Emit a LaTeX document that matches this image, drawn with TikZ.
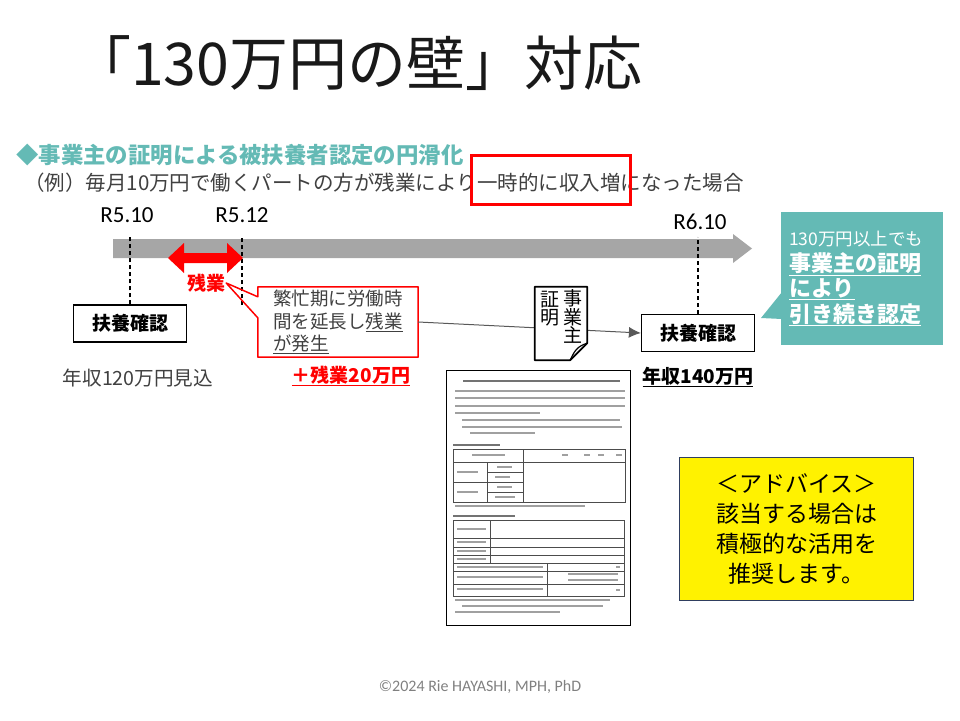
\documentclass[tikz,border=0pt]{standalone}
\usepackage{fontspec}
\setmainfont{Noto Sans CJK JP}
\newfontfamily\latinfont{Carlito}
\usetikzlibrary{arrows.meta}
\definecolor{tealnote}{RGB}{100,186,181}
\definecolor{darktext}{RGB}{64,64,64}
\definecolor{bargray}{RGB}{166,166,166}
\definecolor{navyedge}{RGB}{47,62,94}
\definecolor{formgray}{RGB}{160,160,160}
\newcommand{\sizept}[2]{\fontsize{#1}{#2}\selectfont}

\begin{document}
\begin{tikzpicture}[x=1pt,y=-1pt,
    checkbox/.style={draw=black,line width=1.2pt,fill=white,minimum width=113pt,minimum height=37pt,inner sep=0pt,font=\bfseries\sizept{19}{19}},
    dateline/.style={line width=1.5pt,dash pattern=on 4pt off 3pt},
    datelabel/.style={font=\latinfont\sizept{23}{23}},
    bodytext/.style={text=darktext,inner sep=0pt},
    formtext/.style={line width=1.6pt,formgray},
    formrule/.style={line width=0.9pt,black!70}]
  \useasboundingbox (0,0) rectangle (960,720);

  \node[anchor=west,inner sep=0pt,font=\sizept{59}{59},text=black!90] (title) at (72,63) {「130万円の壁」対応};
  \node[anchor=west,inner sep=0pt,font=\bfseries\sizept{22.4}{22.4},text=tealnote] (heading) at (16,155) {◆事業主の証明による被扶養者認定の円滑化};
  \node[anchor=west,bodytext,font=\sizept{20.5}{20.5}] (example) at (24,183) {（例）毎月10万円で働くパートの方が残業により一時的に収入増になった場合};
  \draw[red,line width=3pt] (471,155) rectangle (630,204);

  \fill[bargray] (113,239) -- (733,239) -- (733,234) -- (752,248.5) -- (733,263) -- (733,258) -- (113,258) -- cycle;

  \node[datelabel] (d1) at (127,215) {R5.10};
  \node[datelabel] (d2) at (242,215) {R5.12};
  \node[datelabel] (d3) at (700,222) {R6.10};

  \node[checkbox] (chk1) at (130,323.5) {扶養確認};
  \node[checkbox] (chk2) at (698,333) {扶養確認};
  \draw[dateline] (chk1.north) -- ++(0,-68);
  \coordinate (c512) at (242,305);
  \draw[dateline] (c512) -- ++(0,-68);
  \draw[dateline] (chk2.north) -- ++(0,-77);

  \fill[red] (168,258) -- (184,243) -- (184,253) -- (227,253) -- (227,243) -- (243,258)
    -- (227,273) -- (227,263) -- (184,263) -- (184,273) -- cycle;
  \node[text=red,inner sep=1pt,font=\bfseries\sizept{19}{19}] (zan) at (206,283) {残業};

  \node[bodytext,minimum width=160pt,minimum height=70pt,text width=130pt,inner xsep=15pt,align=left,font=\sizept{18.5}{22.5}] (busy) at (338,322)
    {繁忙期に労働時\\間を延長し\underline{残業}\\\underline{が発生}};
  \draw[red,line width=1.5pt,line join=round] (busy.north west) -- (busy.north east) -- (busy.south east) -- (busy.south west)
    -- ([yshift=-31pt]busy.north west) -- (zan.east) -- ([yshift=-10pt]busy.north west) -- cycle;

  \draw[-{Latex[length=12pt,width=11pt]},line width=1pt,black!65] (busy.east) -- (chk2.west);

  \node[minimum width=52pt,minimum height=73pt,inner sep=0pt] (cert) at (561,323.5) {};
  \filldraw[fill=white,draw=black,line width=1.8pt,line join=round] (cert.north west) -- (cert.north east)
    -- ([yshift=17pt]cert.south east) -- ([xshift=-17pt]cert.south east) -- (cert.south west) -- cycle;
  \draw[line width=1.2pt] ([yshift=17pt]cert.south east) .. controls ([xshift=-10pt,yshift=14pt]cert.south east)
    and ([xshift=-13pt,yshift=9pt]cert.south east) .. ([xshift=-17pt]cert.south east);
  \node[anchor=north,inner sep=0pt,align=center,font=\sizept{19}{18.5}] (certA) at ([xshift=12pt,yshift=-3pt]cert.north) {事\\業\\主};
  \node[anchor=north,inner sep=0pt,align=center,font=\sizept{19}{18.5}] (certB) at ([xshift=-11pt,yshift=-4pt]cert.north) {証\\明};

  \node[bodytext,font=\sizept{19.6}{19.6}] (inc1) at (138,378) {年収120万円見込};
  \node[text=red,inner sep=0pt,font=\bfseries\sizept{19}{19}] (inc2) at (351,376) {\underline{＋残業20万円}};
  \node[inner sep=0pt,font=\bfseries\sizept{19}{19}] (inc3) at (698,377) {\underline{年収140万円}};

  \node[fill=tealnote,anchor=north west,minimum width=162pt,minimum height=133pt,text width=146pt,inner xsep=8pt,
    align=left,text=white,font=\bfseries\sizept{22}{25.5}] (note) at (781,212)
    {{\mdseries\sizept{17.5}{25.5}130万円以上でも}\\\underline{事業主の証明}\\\underline{により}\\\underline{引き続き認定}};
  \coordinate (notetip) at (761,318);
  \fill[tealnote] ([yshift=-80pt,xshift=1pt]note.north west) -- (notetip) -- ([yshift=-107pt,xshift=1pt]note.north west) -- cycle;

  \node[draw=black,line width=1.2pt,anchor=north west,minimum width=184pt,minimum height=255pt] (form) at (446,370) {};
  \draw[formtext,black!55] (463,381) -- (620,381);
  \foreach \y/\a/\b in {391/455/625,398/455/625,406/455/625,413/455/540}
    \draw[formtext] (\a,\y) -- (\b,\y);
  \foreach \y/\a/\b in {420/462/620,427/462/622,433/470/535}
    \draw[formtext,line width=1.2pt] (\a,\y) -- (\b,\y);
  \draw[formtext,black!55] (453,445) -- (500,445);
  \draw[formrule] (453,449) rectangle (625,502);
  \draw[formrule] (523,449) -- (523,502) (453,462) -- (625,462) (453,482) -- (523,482)
    (487,462) -- (487,502) (487,472) -- (523,472) (487,492) -- (523,492);
  \foreach \y/\a/\b in {455/472/505,467/497/512,477/495/510,487/497/512,497/495/515,472/457/478,492/457/478}
    \draw[formtext,line width=1.2pt] (\a,\y) -- (\b,\y);
  \foreach \a in {562,584,598,616}
    \draw[formtext,line width=1.2pt] (\a,455) -- ++(6,0);
  \draw[formtext,line width=1.2pt] (455,506) -- (585,506);
  \draw[formtext,black!55] (453,516) -- (515,516);
  \draw[formrule] (453,520) rectangle (624,596);
  \draw[formrule] (453,538) -- (624,538) (453,547) -- (624,547) (453,555) -- (624,555) (453,563) -- (624,563)
    (453,571) -- (624,571) (453,584) -- (624,584) (490,520) -- (490,563) (547,563) -- (547,596);
  \foreach \y in {529,542,551,559}
    \draw[formtext,line width=1.2pt] (457,\y) -- (486,\y);
  \foreach \y/\b in {567/543,577/543,589/543}
    \draw[formtext,line width=1.2pt] (457,\y) -- (\b,\y);
  \foreach \y in {574,580}
    \draw[formtext,line width=1.2pt] (568,\y) -- (618,\y);
  \foreach \y in {567,590}
    \draw[formtext,line width=1.2pt] (616,\y) -- (620,\y);
  \foreach \y/\a/\b in {600/455/610,606/462/603,612/455/560}
    \draw[formtext,line width=1.2pt] (\a,\y) -- (\b,\y);

  \node[draw=navyedge,fill=yellow,line width=1.2pt,anchor=north west,minimum width=234pt,minimum height=143pt,
    align=center,font=\sizept{23}{30}] (advice) at (679,457) {＜アドバイス＞\\該当する場合は\\積極的な活用を\\推奨します。};

  \node[text=black!50,font=\latinfont\sizept{16}{16}] (copy) at (480,687) {©2024 Rie HAYASHI, MPH, PhD};
\end{tikzpicture}
\end{document}
